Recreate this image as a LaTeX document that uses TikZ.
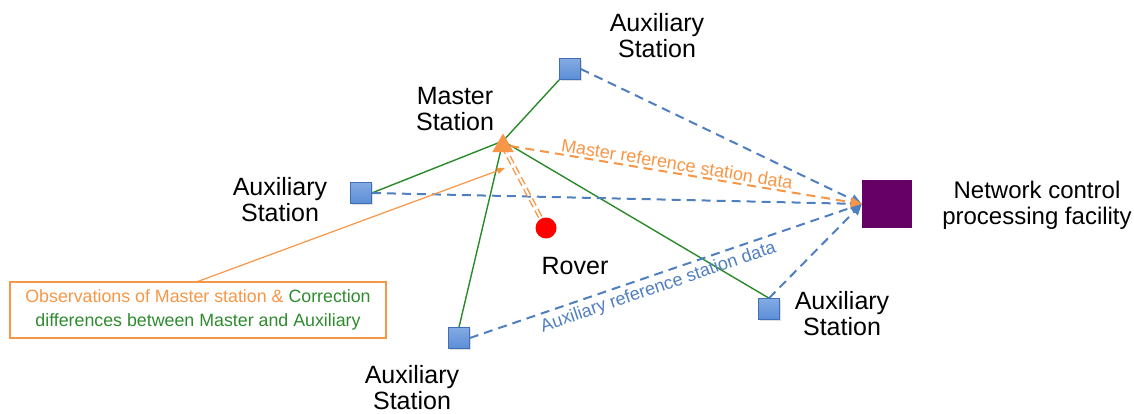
\documentclass[tikz,border=0pt]{standalone}
\usepackage{fontspec}
\setmainfont{Liberation Sans}
\usetikzlibrary{arrows.meta,shapes.geometric,backgrounds,shadows}
\definecolor{auxblue}{HTML}{5B8ED8}
\definecolor{auxborder}{HTML}{3F6FB5}
\definecolor{dashblue}{HTML}{4F7FC0}
\definecolor{orng}{HTML}{F79646}
\definecolor{grn}{HTML}{2A8A2A}
\definecolor{purp}{HTML}{660066}
\definecolor{txtgrn}{HTML}{2E8B2E}
\tikzset{
  aux/.style={rectangle, minimum size=21pt, inner sep=0pt, draw=auxborder, line width=0.6pt,
    top color=auxblue!75!white, bottom color=auxblue, drop shadow={shadow xshift=1pt,shadow yshift=-1.5pt,opacity=0.25}},
  lbl/.style={align=center, font=\fontsize{25}{26}\selectfont, text=black},
  glink/.style={draw=grn, line width=1.4pt},
  bdash/.style={draw=dashblue, line width=2pt, dash pattern=on 9pt off 6pt, -{Triangle[length=11pt,width=10pt]}},
  odash/.style={draw=orng, line width=2pt, dash pattern=on 9pt off 6pt, -{Triangle[length=11pt,width=10pt]}},
  small/.style={font=\fontsize{18}{20}\selectfont, inner sep=1pt}
}
\begin{document}
\begin{tikzpicture}[x=1pt,y=-1pt]
\useasboundingbox (0,0) rectangle (1134,414);
% nodes
\node[aux] (a1) at (570,69) {};
\node[aux] (a2) at (361,193) {};
\node[aux] (a4) at (459,338) {};
\node[aux] (a5) at (769,309) {};
\node[regular polygon, regular polygon sides=3, fill=orng, minimum size=25pt, inner sep=0pt] (m) at (503,146) {};
\node[circle, fill=red, minimum size=21pt, inner sep=0pt] (r) at (546,228) {};
\node[rectangle, fill=purp, minimum width=50pt, minimum height=48pt, inner sep=0pt] (n) at (887,204) {};
\coordinate (mc) at (503,141);
% labels
\node[lbl] (la1) at (657,36) {Auxiliary\\Station};
\node[lbl] (lm) at (455,109) {Master\\Station};
\node[lbl] (la2) at (280,200) {Auxiliary\\Station};
\node[lbl] (lr) at (575,266) {Rover};
\node[lbl, font=\fontsize{24}{26}\selectfont] (ln) at (1037,205) {Network control\\processing facility};
\node[lbl] (la5) at (842,314) {Auxiliary\\Station};
\node[lbl] (la4) at (412,388) {Auxiliary\\Station};
\node[draw=orng, line width=1.2pt, minimum width=376pt, minimum height=56pt, align=center,
      font=\fontsize{17.8}{24}\selectfont] (obs) at (198,310)
  {\textcolor{orng}{Observations of Master station \&} \textcolor{txtgrn}{Correction}\\
   \textcolor{txtgrn}{differences between Master and Auxiliary}};
\coordinate (obsEnd) at (505,168);
\begin{pgfonlayer}{background}
\draw[glink] (mc) -- (a1.south west);
\draw[glink] (mc) -- (a2.east);
\draw[glink] (mc) -- (a4.north);
\draw[glink] (mc) -- (a5.north);
\draw[bdash] (a1.east) -- (n.west);
\draw[bdash] (a2.east) -- (n.west);
\draw[bdash] (a4.east) -- (n.west) node[pos=0.47, sloped, below=3pt, small, text=dashblue] (lab2) {Auxiliary reference station data};
\draw[bdash] (a5.north) -- (n.west);
\draw[odash] (m.east) -- (n.west) node[pos=0.47, sloped, above=1pt, small, text=orng] (lab1) {Master reference station data};
\draw[draw=orng, line width=1.4pt, double=white, double distance=2pt, dash pattern=on 8pt off 4pt] (m.center) -- (r);
\draw[draw=orng, line width=1.2pt, -{Triangle[length=8pt,width=6pt]}] (obs.north) -- (obsEnd);
\end{pgfonlayer}
\end{tikzpicture}
\end{document}
